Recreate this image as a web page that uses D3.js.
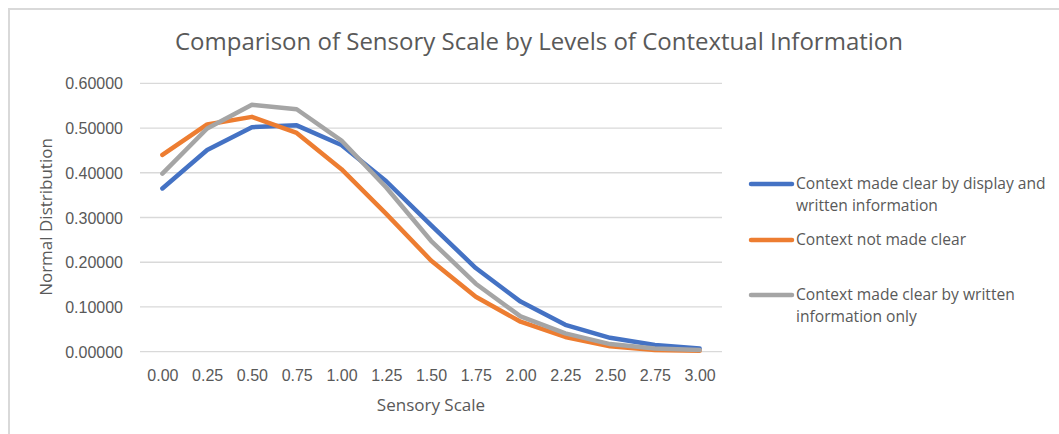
<!DOCTYPE html>
<html>
<head>
<meta charset="utf-8">
<style>
body { margin: 0; background: #fff; }
svg { display: block; font-family: "Open Sans", "Liberation Sans", sans-serif; }
.axis text { fill: #595959; }
</style>
</head>
<body>
<svg id="chart" width="1059" height="434"></svg>
<script src="https://cdn.jsdelivr.net/npm/d3@7/dist/d3.min.js"></script>
<script>
// data
var sensory = ["0.00","0.25","0.50","0.75","1.00","1.25","1.50","1.75","2.00","2.25","2.50","2.75","3.00"]
var displayWritten = [0.365,0.451,0.502,0.506,0.462,0.381,0.283,0.187,0.112,0.060,0.031,0.015,0.007]
var notClear = [0.440,0.508,0.525,0.489,0.408,0.308,0.204,0.123,0.067,0.033,0.012,0.004,0.002]
var writtenOnly = [0.398,0.499,0.552,0.542,0.472,0.367,0.248,0.152,0.079,0.041,0.017,0.007,0.004]
var seriesNames = ["Context made clear by display and written information", "Context not made clear", "Context made clear by written information only"]
var yTicks = [0, 0.1, 0.2, 0.3, 0.4, 0.5, 0.6]

var colors = ["#4472C4", "#ED7D31", "#A5A5A5"]
var series = [displayWritten, notClear, writtenOnly]

var svg = d3.select("#chart")

// outer frame
svg.append("rect")
  .attr("x", 9).attr("y", 9)
  .attr("width", 1080).attr("height", 460)
  .attr("fill", "none").attr("stroke", "#d9d9d9").attr("stroke-width", 2)

var x = d3.scalePoint().domain(sensory).range([140, 722]).padding(0.5)
var y = d3.scaleLinear().domain([0, 0.6]).range([351.7, 83.3])

// gridlines
svg.append("g").selectAll("line")
  .data(yTicks).enter().append("line")
  .attr("x1", 140).attr("x2", 722)
  .attr("y1", d => y(d)).attr("y2", d => y(d))
  .attr("stroke", "#d9d9d9").attr("stroke-width", 1.3)

// y axis labels
var yAxis = d3.axisLeft(y).tickValues(yTicks).tickFormat(d3.format(".5f")).tickSize(0).tickPadding(0)
svg.append("g").attr("class", "axis")
  .attr("transform", "translate(123,0)")
  .call(yAxis)
  .call(g => g.select(".domain").remove())
  .selectAll("text").attr("font-size", 16).attr("dy", "0.35em")

// x axis labels
var xAxis = d3.axisBottom(x).tickSize(0).tickPadding(0)
svg.append("g").attr("class", "axis")
  .attr("transform", "translate(0,370)")
  .call(xAxis)
  .call(g => g.select(".domain").remove())
  .selectAll("text").attr("font-size", 16).attr("dy", "0.7em")

// lines
var line = d3.line().x((d, i) => x(sensory[i])).y(d => y(d))
svg.append("g").selectAll("path")
  .data(series).enter().append("path")
  .attr("d", d => line(d))
  .attr("fill", "none")
  .attr("stroke", (d, i) => colors[i])
  .attr("stroke-width", 4.5)
  .attr("stroke-linejoin", "round")
  .attr("stroke-linecap", "round")

// titles
svg.append("text")
  .attr("x", 539).attr("y", 50)
  .attr("text-anchor", "middle")
  .attr("font-size", 24)
  .attr("fill", "#595959")
  .text("Comparison of Sensory Scale by Levels of Contextual Information")

svg.append("text")
  .attr("x", 431).attr("y", 411)
  .attr("text-anchor", "middle")
  .attr("font-size", 17)
  .attr("fill", "#595959")
  .text("Sensory Scale")

svg.append("text")
  .attr("transform", "translate(52,217) rotate(-90)")
  .attr("text-anchor", "middle")
  .attr("font-size", 17)
  .attr("fill", "#595959")
  .text("Normal Distribution")

// legend
var legendLines = [
  ["Context made clear by display and", "written information"],
  ["Context not made clear"],
  ["Context made clear by written", "information only"]
]
var legendY = [184, 240, 295]
var lg = svg.append("g").selectAll("g")
  .data(legendLines).enter().append("g")
  .attr("transform", (d, i) => "translate(750," + legendY[i] + ")")
lg.append("line")
  .attr("x1", 1).attr("x2", 42)
  .attr("stroke", (d, i) => colors[i])
  .attr("stroke-width", 4.5)
  .attr("stroke-linecap", "round")
var lt = lg.append("text")
  .attr("x", 46)
  .attr("font-size", 15.6)
  .attr("fill", "#595959")
lt.selectAll("tspan")
  .data(d => d).enter().append("tspan")
  .attr("x", 46)
  .attr("y", (d, i) => i * 22)
  .attr("dy", "0.35em")
  .text(d => d)
</script>
</body>
</html>
